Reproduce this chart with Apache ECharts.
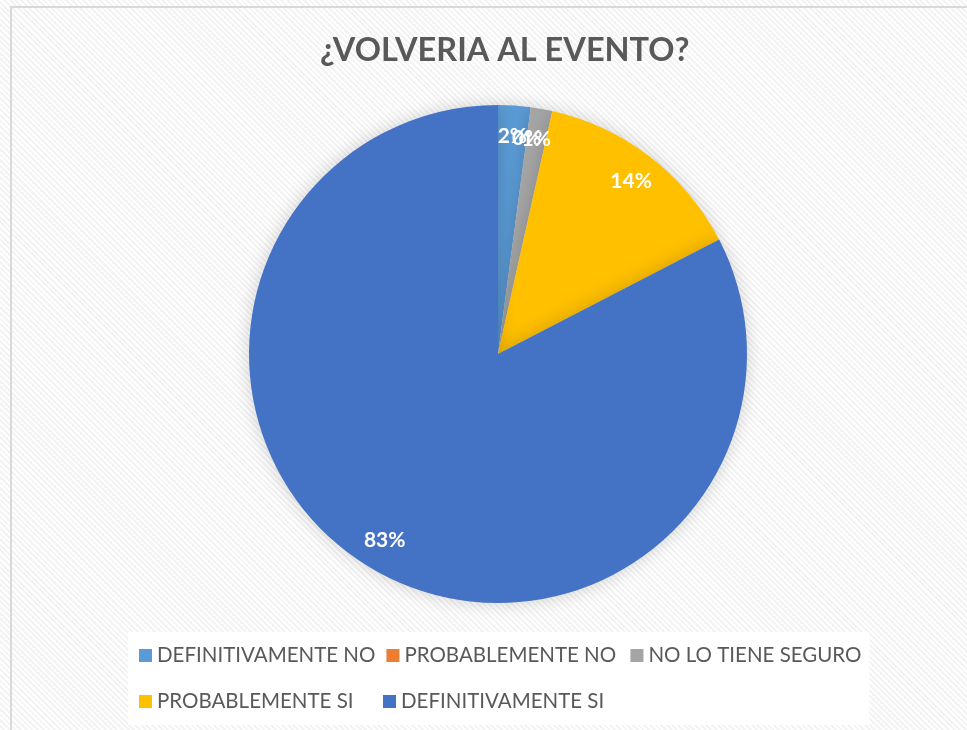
<!DOCTYPE html>
<html>
<head>
<meta charset="utf-8">
<script src="https://cdn.jsdelivr.net/npm/echarts@6/dist/echarts.min.js"></script>
<style>
  html, body {
    margin: 0;
    padding: 0;
    width: 967px;
    height: 730px;
    overflow: hidden;
    background: #fff;
  }
  #chart {
    position: absolute;
    left: 0;
    top: 0;
    width: 967px;
    height: 730px;
    background: repeating-linear-gradient(45deg, #ffffff 0px, #ffffff 2px, #f3f3f3 2px, #f3f3f3 4px);
  }
</style>
</head>
<body>
<div id="chart"></div>
<script>
  // respuestas de la encuesta
  const categories = [
    "DEFINITIVAMENTE NO",
    "PROBABLEMENTE NO",
    "NO LO TIENE SEGURO",
    "PROBABLEMENTE SI",
    "DEFINITIVAMENTE SI",
  ];
  const values = [2.1, 0, 1.4, 13.9, 82.6];
  const colors = ["#5B9BD5", "#ED7D31", "#A5A5A5", "#FFC000", "#4472C4"];

  const font = "Lato, 'Open Sans', sans-serif";
  const pieData = categories.map((name, i) => ({
    name,
    value: values[i],
    itemStyle: { color: colors[i] },
  }));

  const chart = echarts.init(document.getElementById("chart"));
  chart.setOption({
    animation: false,
    title: {
      text: "¿VOLVERIA AL EVENTO?",
      left: 315,
      top: 29,
      textStyle: {
        color: "#595959",
        fontFamily: font,
        fontWeight: "bold",
        fontSize: 32.5,
      },
    },
    graphic: [
      {
        type: "rect",
        shape: { x: 11, y: 7, width: 990, height: 760 },
        style: { fill: "none", stroke: "#d9d9d9", lineWidth: 2 },
        silent: true,
      },
    ],
    legend: {
      data: categories,
      left: 128,
      top: 632,
      width: 780,
      padding: [6, 6, 6, 11],
      backgroundColor: "#ffffff",
      itemWidth: 13,
      itemHeight: 13,
      itemGap: 11,
      icon: "rect",
      textStyle: {
        color: "#595959",
        fontFamily: font,
        fontSize: 20.5,
        width: 215,
        lineHeight: 35,
      },
    },
    series: [
      {
        name: "¿VOLVERIA AL EVENTO?",
        type: "pie",
        center: [498, 354],
        radius: [0, 249],
        startAngle: 90,
        clockwise: true,
        silent: true,
        label: { show: false },
        labelLine: { show: false },
        itemStyle: {
          shadowBlur: 18,
          shadowColor: "rgba(0,0,0,0.18)",
        },
        data: pieData,
      },
      {
        // solo etiquetas, situadas cerca del borde como en Excel
        name: "etiquetas",
        type: "pie",
        center: [498, 354],
        radius: [181, 249],
        startAngle: 90,
        clockwise: true,
        silent: true,
        avoidLabelOverlap: false,
        minShowLabelAngle: 0,
        itemStyle: { color: "rgba(0,0,0,0)" },
        label: {
          show: true,
          position: "inside",
          color: "#ffffff",
          fontFamily: font,
          fontWeight: "bold",
          fontSize: 21,
          overflow: "none",
          formatter: (p) => Math.round(p.percent) + "%",
        },
        labelLayout: { hideOverlap: false },
        labelLine: { show: false },
        data: categories.map((name, i) => ({ name, value: values[i] })),
      },
    ],
  });
</script>
</body>
</html>
